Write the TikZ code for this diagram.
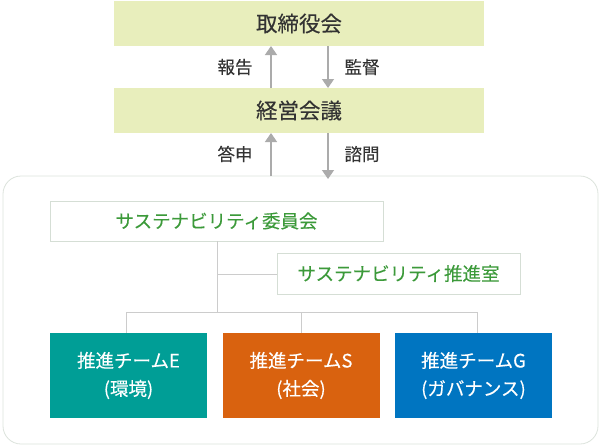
\documentclass[tikz,border=0pt]{standalone}
\usepackage{fontspec}
\setmainfont{Noto Sans CJK JP}[FakeBold=0.15]
\usetikzlibrary{arrows.meta}
\definecolor{topfill}{HTML}{E8EEBC}
\definecolor{txtdark}{HTML}{333333}
\definecolor{arrgray}{HTML}{ABABAB}
\definecolor{linegray}{HTML}{CCCCCC}
\definecolor{boxline}{HTML}{D5DED5}
\definecolor{outerline}{HTML}{DCE3DC}
\definecolor{greentxt}{HTML}{3C9A3A}
\definecolor{teamE}{HTML}{009E96}
\definecolor{teamS}{HTML}{D9620F}
\definecolor{teamG}{HTML}{0075C1}
\tikzset{
  topbox/.style={fill=topfill, draw=none, minimum width=370pt, minimum height=45pt,
    inner sep=0pt, outer sep=0pt, text=txtdark, font=\fontsize{21.5}{24}\selectfont},
  lbl/.style={text=txtdark, font=\fontsize{17.5}{20}\selectfont, inner sep=0pt},
  arr/.style={draw=arrgray, line width=1.4pt, -{Triangle[width=12pt,length=9pt]}},
  outerbox/.style={draw=outerline, line width=0.8pt, rounded corners=18pt, fill=white,
    minimum width=595pt, minimum height=268pt, inner sep=0pt, outer sep=0pt},
  wbox/.style={draw=boxline, line width=1pt, fill=white, inner sep=0pt, outer sep=0pt,
    text=greentxt, font=\fontsize{18.5}{22}\selectfont},
  team/.style={draw=none, minimum width=157pt, minimum height=85pt, inner sep=0pt,
    outer sep=0pt, text=white, align=center, font=\fontsize{18.5}{28}\selectfont},
  conn/.style={draw=linegray, line width=1pt}
}
\begin{document}
\begin{tikzpicture}[x=1pt,y=-1pt]
\useasboundingbox (0,0) rectangle (600,445);
% outer frame
\node[outerbox] (outer) at (300.5,310) {};
% top boxes
\node[topbox] (board) at (299,23.5) {取締役会};
\node[topbox] (mgmt) at (299,110.5) {経営会議};
% arrow columns
\coordinate (xup) at (271,0);
\coordinate (xdn) at (328,0);
\draw[arr] (mgmt.north -| xup) -- (board.south -| xup);
\draw[arr] (board.south -| xdn) -- (mgmt.north -| xdn);
\draw[arr] (outer.north -| xup) -- (mgmt.south -| xup);
\draw[arr] (mgmt.south -| xdn) -- ([yshift=-3pt]outer.north -| xdn);
\node[lbl] (l1) at (235,67) {報告};
\node[lbl] (l2) at (362,67) {監督};
\node[lbl] (l3) at (235,154) {答申};
\node[lbl] (l4) at (362,154) {諮問};
% committee and office
\node[wbox, minimum width=333pt, minimum height=40pt] (comm) at (216.5,221) {サステナビリティ委員会};
\node[wbox, minimum width=243pt, minimum height=41pt] (office) at (398.5,273.5) {サステナビリティ推進室};
% teams
\node[team, fill=teamE] (tE) at (128.5,375.5) {推進チームE\\(環境)};
\node[team, fill=teamS] (tS) at (301,375.5) {推進チームS\\(社会)};
\node[team, fill=teamG] (tG) at (473.5,375.5) {推進チームG\\(ガバナンス)};
% connectors
\coordinate (jmain) at (217,312);
\coordinate (joff) at (217,274);
\coordinate (jE) at (126,312);
\coordinate (jS) at (301,312);
\coordinate (jG) at (477,312);
\draw[conn] (comm.south -| jmain) -- (jmain);
\draw[conn] (joff) -- (office.west |- joff);
\draw[conn] (jE) -- (jG);
\draw[conn] (jE) -- (tE.north -| jE);
\draw[conn] (jS) -- (tS.north -| jS);
\draw[conn] (jG) -- (tG.north -| jG);
\end{tikzpicture}
\end{document}
